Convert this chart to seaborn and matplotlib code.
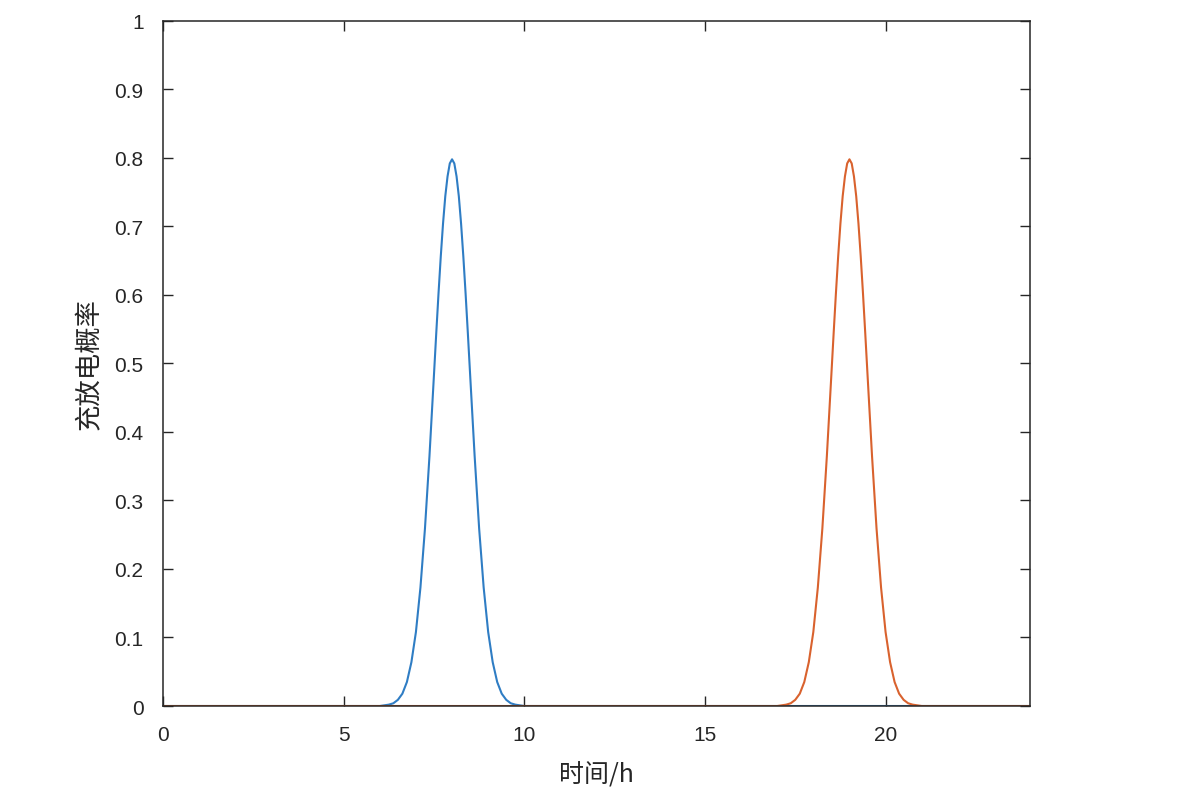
import numpy as np
import pandas as pd
import matplotlib
matplotlib.use("Agg")
import matplotlib.pyplot as plt
import seaborn as sns

# 充电 (blue, peak ~8h) / 放电 (orange, peak ~19h): values
charge_h = [0.0, 6.0, 6.125, 6.25, 6.375, 6.5, 6.625, 6.75, 6.875,
            7.0, 7.125, 7.25, 7.375, 7.5, 7.5625, 7.625, 7.6875,
            7.75, 7.8125, 7.875, 7.9375, 8.0, 8.0625, 8.125, 8.1875,
            8.25, 8.3125, 8.375, 8.4375, 8.5, 8.625, 8.75, 8.875,
            9.0, 9.125, 9.25, 9.375, 9.5, 9.625, 9.75, 9.875, 10.0, 24.0]
charge_p = [0.0, 0.0, 0.001, 0.002, 0.004, 0.009, 0.018, 0.035, 0.064,
            0.108, 0.173, 0.259, 0.365, 0.484, 0.544, 0.602, 0.656,
            0.704, 0.744, 0.773, 0.792, 0.798, 0.792, 0.773, 0.744,
            0.704, 0.656, 0.602, 0.544, 0.484, 0.365, 0.259, 0.173,
            0.108, 0.064, 0.035, 0.018, 0.009, 0.004, 0.002, 0.001, 0.0, 0.0]

discharge_h = [0.0, 17.0, 17.125, 17.25, 17.375, 17.5, 17.625, 17.75, 17.875,
               18.0, 18.125, 18.25, 18.375, 18.5, 18.5625, 18.625, 18.6875,
               18.75, 18.8125, 18.875, 18.9375, 19.0, 19.0625, 19.125, 19.1875,
               19.25, 19.3125, 19.375, 19.4375, 19.5, 19.625, 19.75, 19.875,
               20.0, 20.125, 20.25, 20.375, 20.5, 20.625, 20.75, 20.875, 21.0, 24.0]
discharge_p = [0.0, 0.0, 0.001, 0.002, 0.004, 0.009, 0.018, 0.035, 0.064,
               0.108, 0.173, 0.259, 0.365, 0.484, 0.544, 0.602, 0.656,
               0.704, 0.744, 0.773, 0.792, 0.798, 0.792, 0.773, 0.744,
               0.704, 0.656, 0.602, 0.544, 0.484, 0.365, 0.259, 0.173,
               0.108, 0.064, 0.035, 0.018, 0.009, 0.004, 0.002, 0.001, 0.0, 0.0]

x_ticks = [0, 5, 10, 15, 20]
y_ticks = [0, 0.1, 0.2, 0.3, 0.4, 0.5, 0.6, 0.7, 0.8, 0.9, 1.0]
y_labels = ["0", "0.1", "0.2", "0.3", "0.4", "0.5", "0.6", "0.7", "0.8", "0.9", "1"]

sns.set_style("ticks")
plt.rcParams["font.family"] = ["Liberation Sans", "Noto Sans CJK SC", "DejaVu Sans"]
TXT = "#262626"
CJK = ["Noto Sans CJK SC", "DejaVu Sans"]

fig = plt.figure(figsize=(11.84, 8.12), dpi=100)
ax = fig.add_axes([0.1377, 0.1293, 0.7323, 0.8437])

df1 = pd.DataFrame({"h": charge_h, "p": charge_p})
df2 = pd.DataFrame({"h": discharge_h, "p": discharge_p})
sns.lineplot(data=df1, x="h", y="p", ax=ax, color="#2F7DC4", linewidth=1.5)
sns.lineplot(data=df2, x="h", y="p", ax=ax, color="#D9622E", linewidth=1.5)

ax.set_xlim(0, 24)
ax.set_ylim(0, 1)
ax.set_xticks(x_ticks)
ax.set_xticklabels([str(t) for t in x_ticks])
ax.set_yticks(y_ticks)
ax.set_yticklabels(y_labels)
ax.tick_params(direction="in", length=7, width=1, colors=TXT, labelsize=15,
               top=True, right=True, pad=14)
for s in ax.spines.values():
    s.set_color(TXT)
    s.set_linewidth(1.1)
    s.set_visible(True)

ax.set_xlabel("时间/h", fontsize=18, color=TXT, family=CJK, labelpad=12)
ax.set_ylabel("充放电概率", fontsize=19, color=TXT, family=CJK, labelpad=8)

fig.savefig("out.png", dpi=100)
plt.close(fig)
